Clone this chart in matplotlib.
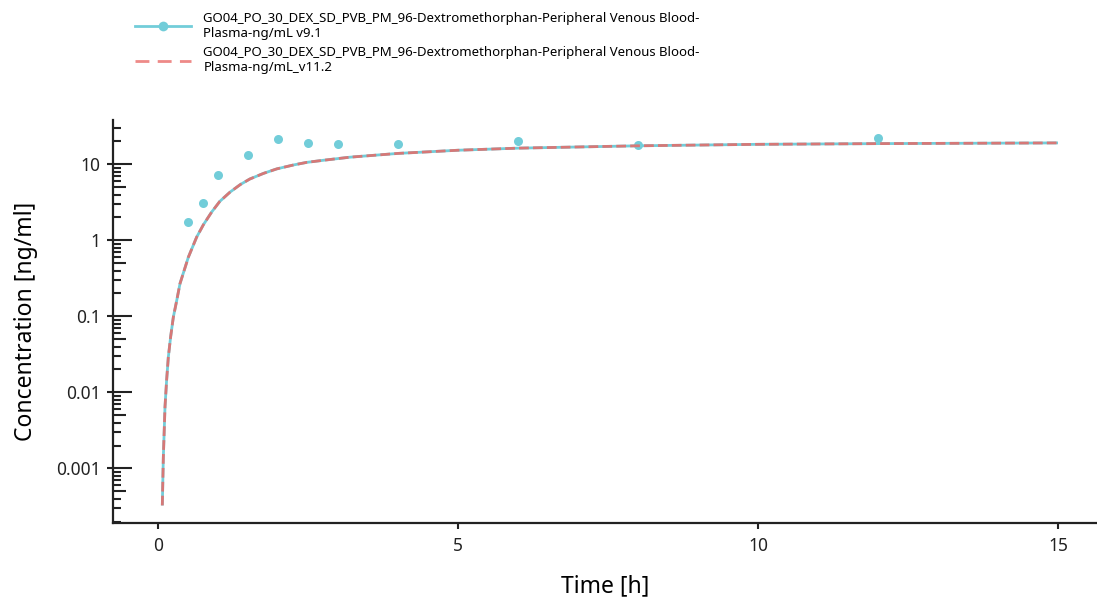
import matplotlib
matplotlib.use("Agg")
import matplotlib.pyplot as plt
from matplotlib.ticker import LogLocator, FixedLocator, FuncFormatter, NullFormatter
from matplotlib.lines import Line2D

plt.rcParams['font.family'] = ['Noto Sans', 'DejaVu Sans']

# ===================== 数据 =====================
obs_time = [0.5, 0.75, 1.0, 1.5, 2.0, 2.5, 3.0, 4.0, 6.0, 8.0, 12.0]
obs_conc = [1.73, 3.07, 7.2, 13.1, 21.3, 18.9, 18.3, 18.3, 20.0, 17.8, 22.0]

sim_time = [0.072, 0.089, 0.117, 0.144, 0.172, 0.211, 0.256, 0.311, 0.367, 0.422,
            0.506, 0.644, 0.756, 0.894, 1.03, 1.2, 1.37, 1.53, 1.76, 1.98,
            2.26, 2.48, 2.76, 3.2, 4.0, 5.0, 6.0, 8.0, 10.0, 12.0, 15.0]
sim_conc = [3.26e-4, 1.4e-3, 6.5e-3, 0.0145, 0.029, 0.054, 0.098, 0.16, 0.27, 0.37,
            0.6, 1.1, 1.6, 2.35, 3.25, 4.3, 5.4, 6.4, 7.6, 8.7,
            9.8, 10.6, 11.3, 12.4, 13.9, 15.3, 16.3, 17.5, 18.3, 18.7, 19.1]

label_v9 = "GO04_PO_30_DEX_SD_PVB_PM_96-Dextromethorphan-Peripheral Venous Blood-\nPlasma-ng/mL v9.1"
label_v11 = "GO04_PO_30_DEX_SD_PVB_PM_96-Dextromethorphan-Peripheral Venous Blood-\nPlasma-ng/mL_v11.2"

x_ticks = [0, 5, 10, 15]
y_ticks = [0.001, 0.01, 0.1, 1, 10]

CYAN = '#72CDD9'
RED = '#D67877'
DARK = '#222222'

# ===================== 绘图 =====================
fig = plt.figure(figsize=(10.97, 5.98), dpi=100)
ax = fig.add_axes([0.103, 0.125, 0.897, 0.674])

ax.plot(sim_time, sim_conc, color=CYAN, lw=2.0, solid_capstyle='butt')
ax.plot(obs_time, obs_conc, 'o', color=CYAN, ms=6.5, mec='none')
ax.plot(sim_time, sim_conc, color=RED, lw=2.0, dashes=(3.5, 1.5))

ax.set_yscale('log')
ax.set_xlim(-0.75, 15.65)
ax.set_ylim(1.9e-4, 38)

ax.set_xticks(x_ticks)
ax.yaxis.set_major_locator(FixedLocator(y_ticks))
ax.yaxis.set_major_formatter(FuncFormatter(lambda v, p: f"{v:g}"))
ax.yaxis.set_minor_locator(LogLocator(base=10, subs=[2, 3, 4, 6, 7, 8, 9], numticks=20))
ax.yaxis.set_minor_formatter(NullFormatter())

for s in ['top', 'right']:
    ax.spines[s].set_visible(False)
for s in ['left', 'bottom']:
    ax.spines[s].set_linewidth(1.6)
    ax.spines[s].set_color(DARK)

ax.tick_params(axis='y', which='major', direction='in', length=14, width=1.5,
               labelsize=12.5, pad=9, colors=DARK)
ax.tick_params(axis='y', which='minor', direction='in', length=6, width=1.5, colors=DARK)
ax.tick_params(axis='x', which='major', direction='out', length=4, width=1.5,
               labelsize=12.5, pad=6, colors=DARK)

# 叠加坐标轴：十进位处向外的短刻度 + 5×10^n 处的中等刻度
ax2 = ax.twinx()
ax2.set_yscale('log')
ax2.set_ylim(ax.get_ylim())
ax2.yaxis.set_ticks_position('left')
ax2.yaxis.set_major_locator(FixedLocator(y_ticks))
ax2.yaxis.set_minor_locator(FixedLocator([5 * 10.0 ** k for k in range(-4, 2)]))
ax2.yaxis.set_major_formatter(NullFormatter())
ax2.yaxis.set_minor_formatter(NullFormatter())
ax2.tick_params(axis='y', which='major', direction='out', length=4.5, width=1.5, colors=DARK)
ax2.tick_params(axis='y', which='minor', direction='in', length=9.5, width=1.5, colors=DARK)
for s in ax2.spines.values():
    s.set_visible(False)

ax.set_xlabel('Time [h]', fontsize=16.5, labelpad=14)
ax.set_ylabel('Concentration [ng/ml]', fontsize=16.5, labelpad=13)

handles = [
    Line2D([], [], color=CYAN, lw=2.0, marker='o', ms=7, mec='none'),
    Line2D([], [], color='#EE8A88', lw=2.0, dashes=(5, 3)),
]
fig.legend(handles, [label_v9, label_v11], loc='upper left', bbox_to_anchor=(0.112, 1.0),
           frameon=False, fontsize=9.5, handlelength=4.3, labelspacing=0.5, handletextpad=0.9)

fig.savefig('out.png', dpi=100)
